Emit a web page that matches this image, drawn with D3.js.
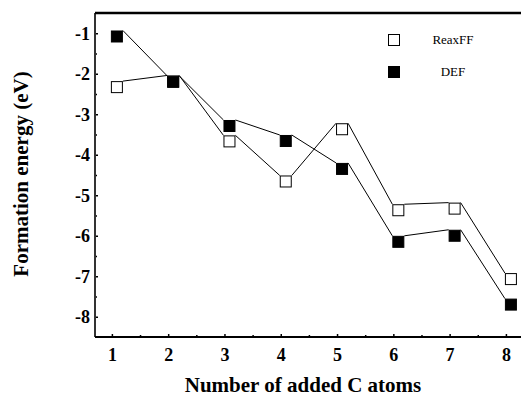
<!DOCTYPE html>
<html>
<head>
<meta charset="utf-8">
<script src="https://cdn.jsdelivr.net/npm/d3@7"></script>
<style>
  body { margin: 0; background: #fff; }
</style>
</head>
<body>
<div class="chart"></div>
<script>
// formation energy vs number of added C atoms
var atoms = [1, 2, 3, 4, 5, 6, 7, 8];
var reaxff = [-2.33, -2.19, -3.67, -4.66, -3.37, -5.37, -5.33, -7.07];
var def = [-1.08, -2.20, -3.29, -3.66, -4.35, -6.15, -6.00, -7.70];
var yTicks = [-1, -2, -3, -4, -5, -6, -7, -8];
var legendNames = ["ReaxFF", "DEF"];

var W = 521, H = 396;
var serif = "'Liberation Serif', 'Times New Roman', serif";

var svg = d3.select(".chart").append("svg")
  .attr("width", W)
  .attr("height", H);

var x = d3.scaleLinear().domain([0.7, 8.3]).range([95, 522.8]);
var y = d3.scaleLinear().domain([-8.5, -0.5]).range([337, 13]);

var sq = 12;     // marker size
var dx = 5;      // markers sit a little right of the ticks

// plain hyphen for negatives, like the original
var fmt = function(d) { return String(d); };

// axes
svg.append("g")
  .attr("transform", "translate(0," + y(-8.5) + ")")
  .call(d3.axisBottom(x).tickValues(atoms).tickSize(-3).tickPadding(11).tickFormat(fmt));
svg.append("g")
  .attr("transform", "translate(0," + y(-8.5) + ")")
  .call(d3.axisBottom(x).tickValues(d3.range(1.5, 8.5, 1)).tickSize(-2).tickFormat(""));

svg.append("g")
  .attr("transform", "translate(" + x(0.7) + ",0)")
  .call(d3.axisLeft(y).tickValues(yTicks).tickSize(-3).tickPadding(5).tickFormat(fmt));
svg.append("g")
  .attr("transform", "translate(" + x(0.7) + ",0)")
  .call(d3.axisLeft(y).tickValues(d3.range(-7.5, -0.5, 1)).tickSize(-2).tickFormat(""));

svg.selectAll(".domain").remove();
svg.selectAll(".tick line").attr("stroke", "#000").attr("stroke-width", 1.5);
svg.selectAll(".tick text")
  .style("font-family", serif)
  .style("font-weight", "bold")
  .style("font-size", "18px")
  .attr("fill", "#000");

// frame
svg.append("line")
  .attr("x1", x(0.7)).attr("x2", x(0.7))
  .attr("y1", y(-0.5)).attr("y2", y(-8.5))
  .attr("stroke", "#333").attr("stroke-width", 2);
svg.append("line")
  .attr("x1", x(0.7)).attr("x2", W)
  .attr("y1", y(-8.5)).attr("y2", y(-8.5))
  .attr("stroke", "#000").attr("stroke-width", 2);
svg.append("line")
  .attr("x1", x(0.7)).attr("x2", W)
  .attr("y1", y(-0.5)).attr("y2", y(-0.5))
  .attr("stroke", "#000").attr("stroke-width", 2.5);

// connecting lines: from top-right corner of one marker to top-left of the next
function drawSegments(vals) {
  var segs = d3.pairs(atoms.map(function(a, i) { return [a, vals[i]]; }));
  svg.append("g").selectAll("line").data(segs).enter()
    .append("line")
    .attr("x1", function(d) { return x(d[0][0]) + dx + sq / 2; })
    .attr("y1", function(d) { return y(d[0][1]) - sq / 2; })
    .attr("x2", function(d) { return x(d[1][0]) + dx - sq / 2; })
    .attr("y2", function(d) { return y(d[1][1]) - sq / 2; })
    .attr("stroke", "#000")
    .attr("stroke-width", 1);
}
drawSegments(reaxff);
drawSegments(def);

function drawMarkers(vals, fill) {
  svg.append("g").selectAll("rect").data(vals).enter()
    .append("rect")
    .attr("x", function(d, i) { return x(atoms[i]) + dx - sq / 2; })
    .attr("y", function(d) { return y(d) - sq / 2; })
    .attr("width", sq - 1)
    .attr("height", sq - 1)
    .attr("transform", "translate(0.5,0.5)")
    .attr("fill", fill)
    .attr("stroke", "#000")
    .attr("stroke-width", 1);
}
drawMarkers(reaxff, "#fff");
drawMarkers(def, "#000");

// legend
var legend = svg.append("g").selectAll("g").data(legendNames).enter()
  .append("g")
  .attr("transform", function(d, i) { return "translate(0," + (40 + i * 32) + ")"; });
legend.append("rect")
  .attr("x", 388.5).attr("y", -5.5)
  .attr("width", sq - 1).attr("height", sq - 1)
  .attr("fill", function(d, i) { return i == 0 ? "#fff" : "#000"; })
  .attr("stroke", "#000");
legend.append("text")
  .attr("x", 453).attr("y", 3.5)
  .attr("text-anchor", "middle")
  .style("font-family", serif)
  .style("font-size", "13px")
  .text(function(d) { return d; });

// axis titles
svg.append("text")
  .attr("x", 303).attr("y", 392)
  .attr("text-anchor", "middle")
  .style("font-family", serif)
  .style("font-weight", "bold")
  .style("font-size", "21px")
  .text("Number of added C atoms");

svg.append("text")
  .attr("transform", "translate(28,174) rotate(-90)")
  .attr("text-anchor", "middle")
  .style("font-family", serif)
  .style("font-weight", "bold")
  .style("font-size", "21px")
  .text("Formation energy (eV)");
</script>
</body>
</html>
